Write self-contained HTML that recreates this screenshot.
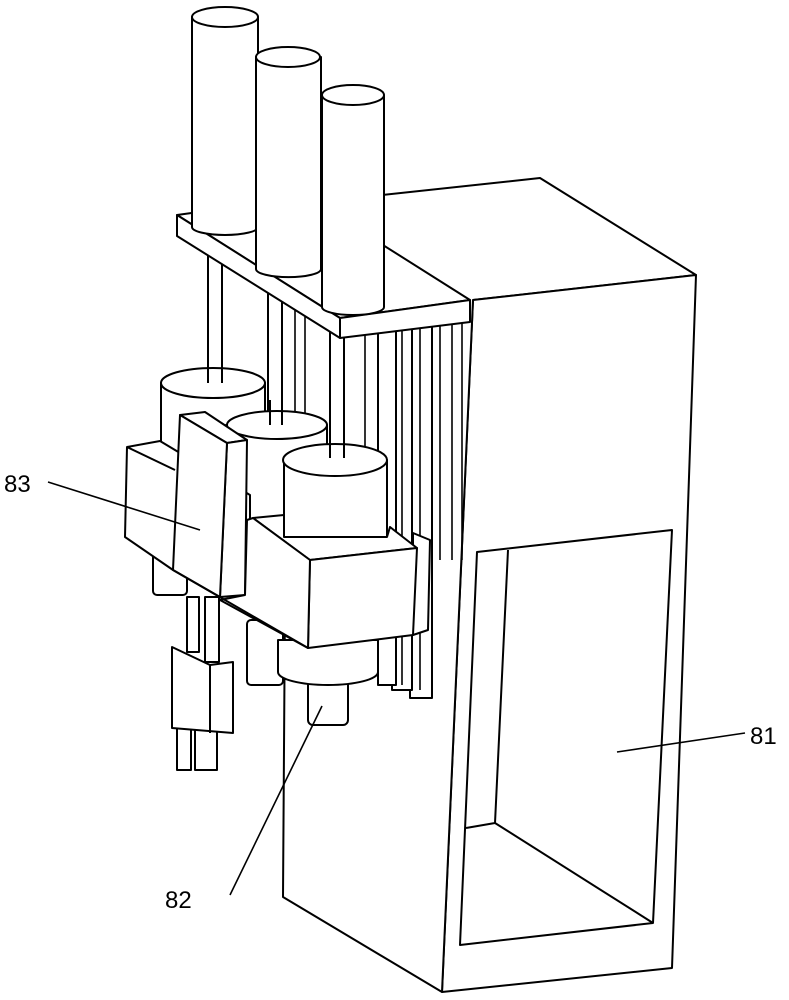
<!DOCTYPE html>
<html><head><style>body{margin:0;background:#fff}svg{display:block}text{font-family:"Liberation Sans",sans-serif;font-size:24px}</style></head>
<body>
<svg width="789" height="1000" viewBox="0 0 789 1000" xmlns="http://www.w3.org/2000/svg" fill="#fff" stroke="#000" stroke-width="2" stroke-linejoin="round">
<!-- main box 81 -->
<polyline points="373,196 540,178 696,275 473,300" fill="none"/>
<polygon points="473,300 696,275 672,968 442,992"/>
<polygon points="285,600 380,330 473,300 442,992 283,897" stroke="none"/>
<polyline points="285,600 283,897 442,992" fill="none"/>
<line x1="473" y1="300" x2="442" y2="992"/>
<polygon points="477,552 672,530 653,923 460,945"/>
<polyline points="508,550 495,823 466,828" fill="none"/>
<line x1="495" y1="823" x2="653" y2="923"/>
<!-- guide bars -->
<g fill="#fff">
<rect x="410" y="320" width="22" height="378"/>
<rect x="392" y="320" width="20" height="370"/>
<rect x="378" y="320" width="18" height="365"/>
</g>
<g stroke-width="1.6">
<line x1="402" y1="320" x2="402" y2="685"/><line x1="420" y1="320" x2="420" y2="690"/>
<line x1="440" y1="320" x2="440" y2="560"/><line x1="452" y1="320" x2="452" y2="560"/><line x1="462" y1="320" x2="462" y2="560"/>
<line x1="365" y1="330" x2="365" y2="460"/><line x1="295" y1="300" x2="295" y2="420"/><line x1="305" y1="300" x2="305" y2="420"/>
</g>
<!-- rods from plate -->
<g>
<rect x="208" y="230" width="14" height="150"/>
<rect x="268" y="270" width="14" height="145"/>
<rect x="330" y="320" width="14" height="136"/>
</g>
<!-- plate -->
<polygon points="177,215 307,197 470,300 340,318"/>
<polygon points="177,215 340,318 340,338 177,236"/>
<polygon points="340,318 470,300 470,322 340,338"/>
<!-- top cylinders -->
<g>
<path d="M192,17 L192,227 A33,8 0 0 0 258,227 L258,17 Z"/><ellipse cx="225" cy="17" rx="33" ry="10"/>
<path d="M256,57 L256,269 A32,8 0 0 0 321,269 L321,57 Z"/><ellipse cx="288" cy="57" rx="32" ry="10"/>
<path d="M322,95 L322,307 A31,8 0 0 0 384,307 L384,95 Z"/><ellipse cx="353" cy="95" rx="31" ry="10"/>
</g>
<!-- lower cylinder A -->
<rect x="153" y="530" width="34" height="65" rx="4"/>
<path d="M161,383 L161,460 A52,15 0 0 0 265,460 L265,383 Z"/>
<ellipse cx="213" cy="383" rx="52" ry="15"/>
<line x1="208" y1="360" x2="208" y2="383"/><line x1="222" y1="360" x2="222" y2="383"/>
<!-- cylinder B -->
<rect x="247" y="620" width="36" height="65" rx="4"/>
<path d="M226,425 L226,508 A50,14 0 0 0 327,508 L327,425 Z"/>
<ellipse cx="277" cy="425" rx="50" ry="14"/>
<line x1="270" y1="400" x2="270" y2="425"/><line x1="282" y1="400" x2="282" y2="425"/>
<!-- under C -->
<rect x="308" y="675" width="40" height="50" rx="5"/>
<path d="M278,640 L278,672 A50,13 0 0 0 378,672 L378,640 Z"/>
<!-- left block -->
<polygon points="127,447 160,441 250,495 250,600 173,570 125,537"/>
<line x1="127" y1="447" x2="175" y2="470"/>
<!-- vertical plate -->
<polygon points="180,415 205,412 247,440 227,443"/>
<polygon points="227,443 247,440 245,595 220,597"/>
<polygon points="180,415 227,443 220,597 173,570"/>
<!-- cylinder C -->
<path d="M284,460 L284,537 A52,15 0 0 0 387,537 L387,460 Z"/>
<ellipse cx="335" cy="460" rx="52" ry="16"/>
<line x1="330" y1="440" x2="330" y2="458"/><line x1="344" y1="440" x2="344" y2="458"/>
<!-- right block -->
<polygon points="413,533 430,540 428,630 413,635"/>
<polygon points="253,518 284,515 284,537 387,537 390,527 417,548 310,560"/>
<polygon points="310,560 417,548 413,635 308,648"/>
<polygon points="253,518 310,560 308,648 220,600 245,595 247,520"/>
<line x1="173" y1="570" x2="308" y2="648"/>
<!-- connector -->
<rect x="187" y="597" width="12" height="55"/><rect x="205" y="597" width="14" height="65"/>
<rect x="177" y="725" width="14" height="45"/><rect x="195" y="730" width="22" height="40"/>
<polygon points="172,647 210,665 233,662 233,733 172,728"/>
<line x1="210" y1="665" x2="210" y2="733"/>
<!-- labels -->
<g stroke-width="1.6" fill="none">
<line x1="48" y1="482" x2="200" y2="530"/>
<line x1="230" y1="895" x2="322" y2="706"/>
<line x1="617" y1="752" x2="745" y2="733"/>
</g>
<g fill="#000" stroke="none">
<text x="4" y="492">83</text>
<text x="165" y="908">82</text>
<text x="750" y="744">81</text>
</g>
</svg>
</body></html>
